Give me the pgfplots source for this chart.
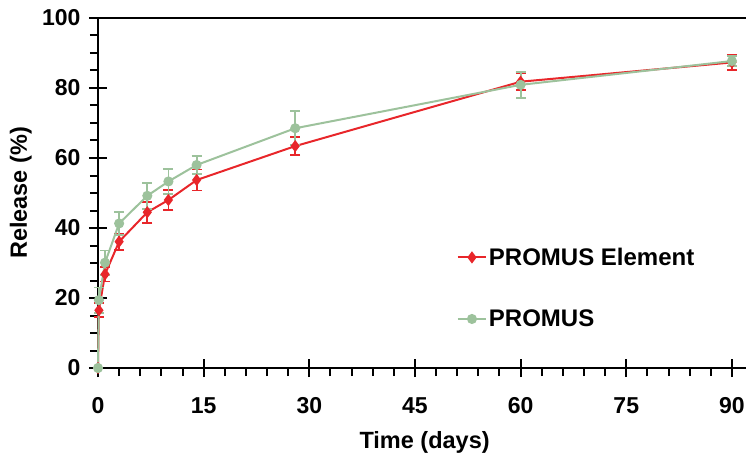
\documentclass[border=0pt]{standalone}
\usepackage{pgfplots}
\pgfplotsset{compat=1.18}
\usepackage{fontspec}
\setmainfont{Liberation Sans}
\definecolor{elemred}{HTML}{E8262A}
\definecolor{promgreen}{HTML}{9DC29C}

\begin{document}
\begin{tikzpicture}
\begin{axis}[
    name=ax,
    width=648pt, height=350pt,
    scale only axis,
    xmin=0, xmax=92,
    ymin=0, ymax=100,
    xtick={0,15,...,90},
    ytick={0,20,...,100},
    minor x tick num=4,
    minor y tick num=3,
    axis x line*=bottom,
    axis y line*=left,
    axis line style={line width=2.4pt},
    tick align=center,
    major tick length=18pt,
    minor tick length=8pt,
    every tick/.style={black, line width=2pt},
    minor x tick style={yshift=-4pt},
    minor y tick style={xshift=-4pt},
    tick label style={font=\fontsize{23}{25}\selectfont\bfseries},
    /pgf/number format/assume math mode=true,
    xticklabel style={yshift=-17pt},
    yticklabel style={xshift=-5pt},
    xlabel={Time (days)},
    ylabel={Release (\%)},
    every axis x label/.style={at={(axis description cs:0.504,-0.2286)}, anchor=base,
        font=\fontsize{23.5}{25}\selectfont\bfseries},
    every axis y label/.style={at={(axis description cs:-0.1096,0.5)}, rotate=90, anchor=base,
        font=\fontsize{23.5}{25}\selectfont\bfseries},
    clip=false,
    legend style={draw=none, fill=none, at={(0.549,0.355)}, anchor=north west,
        font=\fontsize{24}{26}\selectfont\bfseries, row sep=39pt,
        legend cell align=left},
    legend image code/.code={
        \draw[#1] (0pt,0pt) -- (28pt,0pt);
        \draw[#1, mark repeat=2, mark phase=2] plot coordinates {(0pt,0pt) (14pt,0pt) (28pt,0pt)};
    },
    error bars/y dir=both,
    error bars/y explicit,
]
\addplot[elemred, line width=2pt, mark=diamond*, mark size=4.5pt,
    mark options={solid, fill=elemred},
    error bars/error bar style={line width=1.8pt},
    error bars/error mark options={rotate=90, mark size=5pt, line width=1.8pt}]
    coordinates {
    (0,0) +- (0,0)
    (0.125,16.5) +- (0,2.0)
    (1,26.8) +- (0,2.1)
    (3,36.1) +- (0,2.3)
    (7,44.5) +- (0,3.0)
    (10,48.0) +- (0,2.9)
    (14,53.7) +- (0,3.0)
    (28,63.4) +- (0,2.6)
    (60,81.8) +- (0,2.4)
    (90,87.3) +- (0,2.2)
};
\addlegendentry{PROMUS Element}
\addplot[promgreen, line width=2pt, mark=*, mark size=4pt,
    mark options={solid, fill=promgreen},
    error bars/error bar style={line width=1.8pt},
    error bars/error mark options={rotate=90, mark size=5pt, line width=1.8pt}]
    coordinates {
    (0,0) +- (0,0)
    (0.125,19.4) +- (0,3.6)
    (1,30.1) +- (0,3.5)
    (3,41.3) +- (0,3.2)
    (7,49.2) +- (0,3.7)
    (10,53.3) +- (0,3.5)
    (14,58.0) +- (0,2.6)
    (28,68.5) +- (0,4.9)
    (60,80.9) +- (0,3.7)
    (90,87.7) +- (0,1.5)
};
\addlegendentry{PROMUS}
\draw[line width=2.4pt, black] (rel axis cs:0,1) -- (rel axis cs:1,1);
\end{axis}
\pgfresetboundingbox
\path[use as bounding box] (ax.south west) ++(-98pt,-87pt) rectangle ([yshift=18pt]ax.north east);
\end{tikzpicture}
\end{document}
